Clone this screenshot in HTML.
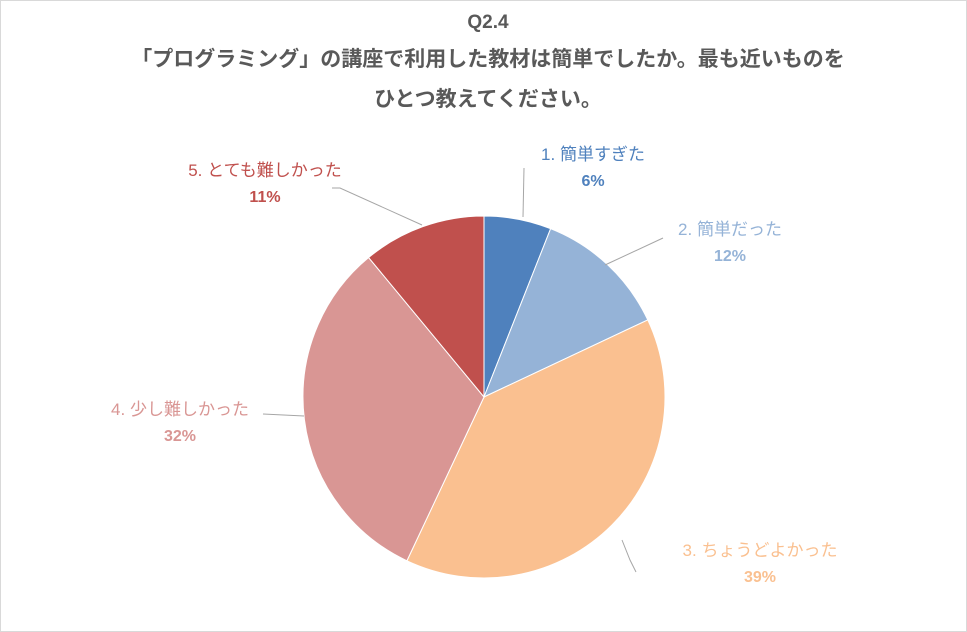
<!DOCTYPE html>
<html><head><meta charset="utf-8"><style>
body{margin:0;background:#fff}
svg{display:block;font-family:"Liberation Sans","Noto Sans CJK JP",sans-serif}
</style></head><body>
<svg width="967" height="632" viewBox="0 0 967 632">
<rect x="0.5" y="0.5" width="966" height="631" fill="#fff" stroke="#d9d9d9"/>
<g fill="#595959" text-anchor="middle" font-weight="bold">
<text x="488" y="28" font-size="19">Q2.4</text>
<text x="488" y="66" font-size="21">「プログラミング」の講座で利用した教材は簡単でしたか。最も近いものを</text>
<text x="488" y="106" font-size="21">ひとつ教えてください。</text>
</g>
<g id="slices"></g>
<g id="labels"></g>
<script>
const categories=["1. 簡単すぎた","2. 簡単だった","3. ちょうどよかった","4. 少し難しかった","5. とても難しかった"];
const values=[6,12,39,32,11];
const valueLabels=["6%","12%","39%","32%","11%"];
const colors=["#4f81bd","#95b3d7","#fac090","#d99694","#c0504d"];
const cx=484,cy=397,r=181;
const labelPos=[[593,160],[730,235],[760,556],[180,415],[265,176]];
const leaders=[[[524,168],[523,217]],[[663,238],[605,265]],[[636,572],[630,560],[622,540]],[[263,414],[304,416]],[[332,188],[340,188],[422,225]]];
const total=values.reduce((a,b)=>a+b,0);
const ns="http://www.w3.org/2000/svg";
const sg=document.getElementById('slices'),lg=document.getElementById('labels');
function pt(a){return [cx+r*Math.sin(a),cy-r*Math.cos(a)];}
let a0=0;
values.forEach((v,i)=>{
 const a1=a0+v/total*2*Math.PI;
 const p0=pt(a0),p1=pt(a1);
 const p=document.createElementNS(ns,'path');
 p.setAttribute('d',`M${cx},${cy}L${p0[0]},${p0[1]}A${r},${r} 0 ${a1-a0>Math.PI?1:0} 1 ${p1[0]},${p1[1]}Z`);
 p.setAttribute('fill',colors[i]);p.setAttribute('stroke','#fff');p.setAttribute('stroke-width','1');
 
 
 sg.appendChild(p);
 a0=a1;
 const l=document.createElementNS(ns,'polyline');
 l.setAttribute('points',leaders[i].map(q=>q.join(',')).join(' '));
 l.setAttribute('fill','none');l.setAttribute('stroke','#a6a6a6');
 
 
 lg.appendChild(l);
 const t=document.createElementNS(ns,'text');
 t.setAttribute('x',labelPos[i][0]);t.setAttribute('y',labelPos[i][1]);
 t.setAttribute('text-anchor','middle');t.setAttribute('font-size','17');t.setAttribute('fill',colors[i]);
 t.textContent=categories[i];
 
 
 lg.appendChild(t);
 const t2=document.createElementNS(ns,'text');
 t2.setAttribute('x',labelPos[i][0]);t2.setAttribute('y',labelPos[i][1]+26);
 t2.setAttribute('text-anchor','middle');t2.setAttribute('font-size','16');t2.setAttribute('font-weight','bold');t2.setAttribute('fill',colors[i]);
 t2.textContent=valueLabels[i];
 
 
 lg.appendChild(t2);
});
</script>
</svg>
</body></html>
